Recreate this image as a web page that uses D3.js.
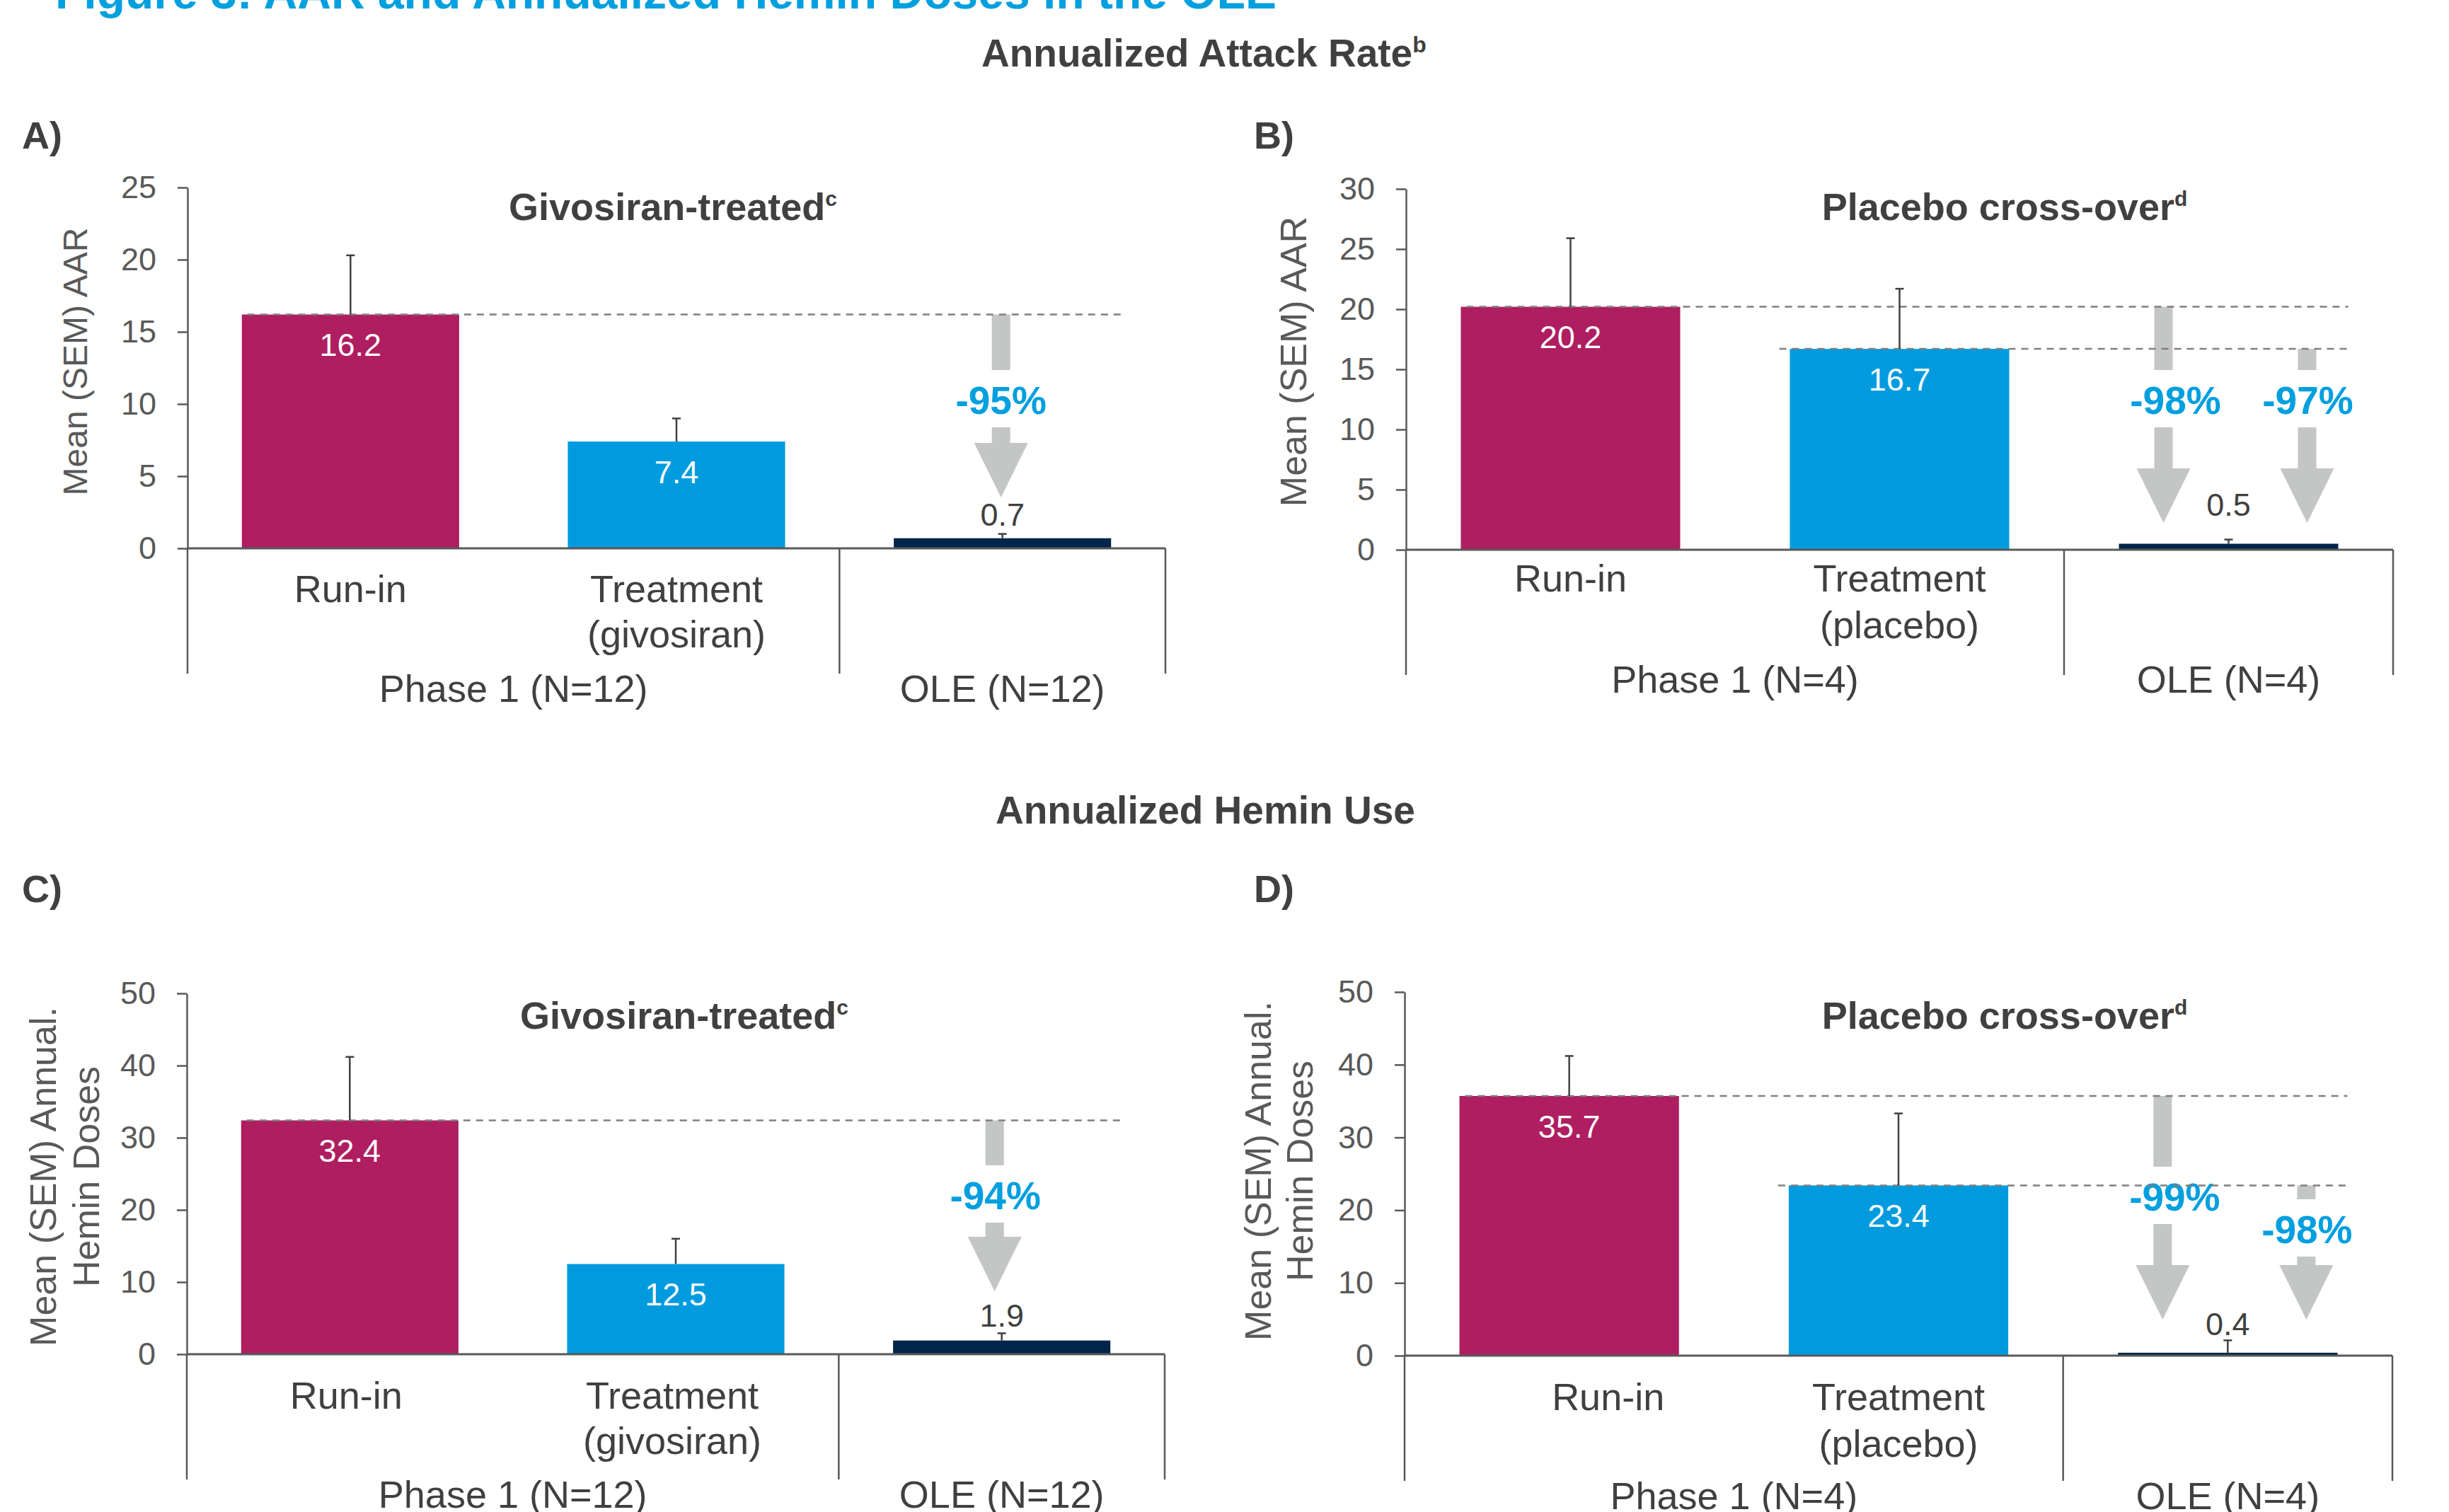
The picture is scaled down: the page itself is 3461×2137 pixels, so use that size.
<!DOCTYPE html>
<html>
<head>
<meta charset="utf-8">
<script src="https://cdn.jsdelivr.net/npm/d3@7"></script>
<style>
  html, body { margin: 0; padding: 0; background: #fff; }
  svg { display: block; }
</style>
</head>
<body>
<svg id="chart" width="3461" height="2137"></svg>
<script>
// ---- data ----
const categories = ['Run-in', 'Treatment', 'OLE']
const givoCatLabels = [['Run-in'], ['Treatment', '(givosiran)'], []]
const placeboCatLabels = [['Run-in'], ['Treatment', '(placebo)'], []]
const givoGroups = ['Phase 1 (N=12)', 'OLE (N=12)']
const placeboGroups = ['Phase 1 (N=4)', 'OLE (N=4)']

const aarGivoMean = [16.2, 7.4, 0.7]
const aarGivoSem = [4.1, 1.6, 0.3]
const aarPlaceboMean = [20.2, 16.7, 0.5]
const aarPlaceboSem = [5.7, 5.0, 0.35]
const heminGivoMean = [32.4, 12.5, 1.9]
const heminGivoSem = [8.8, 3.5, 1.0]
const heminPlaceboMean = [35.7, 23.4, 0.4]
const heminPlaceboSem = [5.5, 9.9, 1.7]

// reduction in OLE vs reference category: [reference index, label]
const aarGivoChange = [[0, '-95%']]
const aarPlaceboChange = [[0, '-98%'], [1, '-97%']]
const heminGivoChange = [[0, '-94%']]
const heminPlaceboChange = [[0, '-99%'], [1, '-98%']]

const aarGivoTicks = [0, 5, 10, 15, 20, 25]
const aarPlaceboTicks = [0, 5, 10, 15, 20, 25, 30]
const heminTicks = [0, 10, 20, 30, 40, 50]

// ---- styling ----
const font = 'Arial, "Liberation Sans", sans-serif'
const dark = '#404040'
const grey = '#595959'
const blue = '#009FDF'
const arrowGrey = '#C4C5C5'
const barColors = ['#AE1E60', '#009BDE', '#00254A']

const svg = d3.select('#chart').attr('font-family', font)

// page title (cut off at the top) and section headings
svg.append('text')
    .attr('x', 78).attr('y', 12)
    .attr('font-size', 66).attr('font-weight', 'bold').attr('fill', '#00A0DF')
    .text('Figure 3: AAR and Annualized Hemin Doses in the OLE')

const withSup = (sel, main, sup, supSize, supDy) => {
    sel.append('tspan').text(main)
    if (sup) sel.append('tspan').attr('font-size', supSize).attr('dy', supDy).text(sup)
}

svg.append('text').attr('x', 1387).attr('y', 94)
    .attr('font-size', 55).attr('font-weight', 'bold').attr('fill', dark)
    .call(withSup, 'Annualized Attack Rate', 'b', 32, -20)
svg.append('text').attr('x', 1407).attr('y', 1164)
    .attr('font-size', 55).attr('font-weight', 'bold').attr('fill', dark)
    .text('Annualized Hemin Use')

// ---- panels (layout only; values come from the arrays above) ----
const panels = [
    {
        letter: 'A)', letterX: 31, letterY: 210,
        title: 'Givosiran-treated', sup: 'c', titleX: 951, titleY: 311,
        mean: aarGivoMean, sem: aarGivoSem, change: aarGivoChange, ticks: aarGivoTicks,
        cats: givoCatLabels, groups: givoGroups,
        yTitle: ['Mean (SEM)  AAR'], yTitleX: [106], yTitleY: 511, yTitleSize: 48,
        x0: 265, x1: 1647, yTop: 265, yBase: 775,
        catDy: [76, 140], catDx: [0, 0, 0], groupDy: 217, outDy: -18,
        arrows: [{ dx: -2, ldx: 0, ly: -209, tip: -72 }]
    },
    {
        letter: 'B)', letterX: 1772, letterY: 210,
        title: 'Placebo cross-over', sup: 'd', titleX: 2833, titleY: 311,
        mean: aarPlaceboMean, sem: aarPlaceboSem, change: aarPlaceboChange, ticks: aarPlaceboTicks,
        cats: placeboCatLabels, groups: placeboGroups,
        yTitle: ['Mean (SEM) AAR'], yTitleX: [1828], yTitleY: 511, yTitleSize: 52,
        x0: 1987, x1: 3382, yTop: 267, yBase: 777,
        catDy: [59, 125], catDx: [0, 0, 0], groupDy: 202, outDy: -40,
        arrows: [{ dx: -92, ldx: 17, ly: -211, tip: -38 }, { dx: 111, ldx: 1, ly: -211, tip: -38 }]
    },
    {
        letter: 'C)', letterX: 31, letterY: 1275,
        title: 'Givosiran-treated', sup: 'c', titleX: 967, titleY: 1454,
        mean: heminGivoMean, sem: heminGivoSem, change: heminGivoChange, ticks: heminTicks,
        cats: givoCatLabels, groups: givoGroups,
        yTitle: ['Mean (SEM)  Annual.', 'Hemin Doses'], yTitleX: [61, 122], yTitleY: 1663, yTitleSize: 52,
        x0: 264, x1: 1646, yTop: 1404, yBase: 1914,
        catDy: [77, 141], catDx: [-5, -5, 0], groupDy: 217, outDy: -20,
        arrows: [{ dx: -10, ldx: 1, ly: -224, tip: -89 }]
    },
    {
        letter: 'D)', letterX: 1772, letterY: 1275,
        title: 'Placebo cross-over', sup: 'd', titleX: 2833, titleY: 1454,
        mean: heminPlaceboMean, sem: heminPlaceboSem, change: heminPlaceboChange, ticks: heminTicks,
        cats: placeboCatLabels, groups: placeboGroups,
        yTitle: ['Mean (SEM) Annual.', 'Hemin Doses'], yTitleX: [1778, 1837], yTitleY: 1655, yTitleSize: 52,
        x0: 1985, x1: 3381, yTop: 1402, yBase: 1916,
        catDy: [77, 143], catDx: [55, 0, 0], groupDy: 217, outDy: -25,
        arrows: [{ dx: -92, ldx: 17, ly: -224, tip: -51 }, { dx: 111, ldx: 1, ly: -178, tip: -51 }]
    }
]

const drawPanel = (p) => {
    const g = svg.append('g')

    const x = d3.scaleBand().domain(categories)
        .range([p.x0, p.x1]).paddingInner(1 / 3).paddingOuter(1 / 6)
    const y = d3.scaleLinear().domain([0, d3.max(p.ticks)]).range([p.yBase, p.yTop])
    const bw = x.bandwidth()
    const cx = c => x(c) + bw / 2
    const rows = categories.map((c, i) => ({ cat: c, mean: p.mean[i], sem: p.sem[i], i }))

    // panel letter + subtitle
    g.append('text').attr('x', p.letterX).attr('y', p.letterY)
        .attr('font-size', 54).attr('font-weight', 'bold').attr('fill', dark).text(p.letter)
    g.append('text').attr('x', p.titleX).attr('y', p.titleY).attr('text-anchor', 'middle')
        .attr('font-size', 54).attr('font-weight', 'bold').attr('fill', dark)
        .call(withSup, p.title, p.sup, 30, -20)

    // y axis title (rotated)
    p.yTitle.forEach((t, j) => {
        g.append('text')
            .attr('transform', `translate(${p.yTitleX[j]},${p.yTitleY}) rotate(-90)`)
            .attr('text-anchor', 'middle').attr('dy', '0.35em')
            .attr('font-size', p.yTitleSize).attr('fill', grey).text(t)
    })

    // y axis
    g.append('g').attr('transform', `translate(${p.x0},0)`)
        .call(d3.axisLeft(y).tickValues(p.ticks).tickSize(14).tickSizeOuter(0)
            .tickPadding(30).tickFormat(d3.format('d')))
        .attr('font-size', 45).attr('font-family', font)
        .call(a => {
            a.select('.domain').attr('stroke', grey).attr('stroke-width', 2.5)
            a.selectAll('.tick line').attr('stroke', grey).attr('stroke-width', 2.5)
            a.selectAll('.tick text').attr('fill', grey)
        })

    // bars
    g.selectAll('rect.bar').data(rows).enter().append('rect')
        .attr('class', 'bar')
        .attr('x', d => x(d.cat)).attr('width', bw)
        .attr('y', d => y(d.mean)).attr('height', d => y(0) - y(d.mean))
        .attr('fill', d => barColors[d.i])

    // reduction arrows
    const ole = categories[2]
    p.change.forEach(([ref, label], j) => {
        const a = p.arrows[j]
        const ax = cx(ole) + a.dx
        const yStart = y(p.mean[ref])
        const yLab = y(0) + a.ly
        const yTip = y(0) + a.tip
        const headLen = 77, headW = 76, shaftW = 26
        if (yLab - 43 > yStart) {
            g.append('rect').attr('x', ax - shaftW / 2).attr('width', shaftW)
                .attr('y', yStart).attr('height', yLab - 43 - yStart).attr('fill', arrowGrey)
        }
        g.append('rect').attr('x', ax - shaftW / 2).attr('width', shaftW)
            .attr('y', yLab + 38).attr('height', Math.max(0, yTip - headLen - yLab - 38)).attr('fill', arrowGrey)
        g.append('polygon')
            .attr('points', [[ax - headW / 2, yTip - headLen], [ax + headW / 2, yTip - headLen], [ax, yTip]].join(' '))
            .attr('fill', arrowGrey)
        g.append('text').attr('x', ax + a.ldx).attr('y', yLab).attr('dy', '0.35em')
            .attr('text-anchor', 'middle').attr('font-size', 55).attr('font-weight', 'bold')
            .attr('fill', blue).text(label)
    })

    // dashed reference lines
    p.change.forEach(([ref]) => {
        g.append('line')
            .attr('x1', x(categories[ref]) + (ref === 0 ? 8 : -15))
            .attr('x2', x(ole) + bw + 14)
            .attr('y1', y(p.mean[ref])).attr('y2', y(p.mean[ref]))
            .attr('stroke', '#7F7F7F').attr('stroke-width', 2.5).attr('stroke-dasharray', '10,8')
    })

    // error bars (upper only)
    const eb = g.selectAll('g.err').data(rows).enter().append('g').attr('class', 'err')
    eb.append('line')
        .attr('x1', d => cx(d.cat)).attr('x2', d => cx(d.cat))
        .attr('y1', d => y(d.mean)).attr('y2', d => y(d.mean + d.sem))
        .attr('stroke', dark).attr('stroke-width', 2.5)
    eb.append('line')
        .attr('x1', d => cx(d.cat) - 6).attr('x2', d => cx(d.cat) + 6)
        .attr('y1', d => y(d.mean + d.sem)).attr('y2', d => y(d.mean + d.sem))
        .attr('stroke', dark).attr('stroke-width', 2.5)

    // value labels
    g.selectAll('text.val').data(rows).enter().append('text')
        .attr('class', 'val')
        .attr('x', d => cx(d.cat))
        .attr('y', d => d.i < 2 ? y(d.mean) + 43 : y(d.mean) + p.outDy)
        .attr('dy', d => d.i < 2 ? '0.35em' : 0)
        .attr('text-anchor', 'middle').attr('font-size', 45)
        .attr('fill', d => d.i < 2 ? '#fff' : dark)
        .text(d => d3.format('.1f')(d.mean))

    // category axis: baseline and group separators
    g.append('line').attr('x1', p.x0).attr('x2', p.x1).attr('y1', y(0)).attr('y2', y(0))
        .attr('stroke', grey).attr('stroke-width', 3)
    ;[0, 2, 3].forEach(k => {
        const sx = p.x0 + k * x.step()
        g.append('line').attr('x1', sx).attr('x2', sx).attr('y1', y(0)).attr('y2', y(0) + 177)
            .attr('stroke', grey).attr('stroke-width', 2.5)
    })

    // category labels
    p.cats.forEach((lines, i) => {
        lines.forEach((t, k) => {
            g.append('text').attr('x', cx(categories[i]) + p.catDx[i]).attr('y', y(0) + p.catDy[k])
                .attr('text-anchor', 'middle').attr('font-size', 54).attr('fill', dark).text(t)
        })
    })
    const groupX = [p.x0 + x.step(), p.x0 + 2.5 * x.step()]
    p.groups.forEach((t, i) => {
        g.append('text').attr('x', groupX[i]).attr('y', y(0) + p.groupDy)
            .attr('text-anchor', 'middle').attr('font-size', 54).attr('fill', dark).text(t)
    })
}

panels.forEach(drawPanel)
</script>
</body>
</html>
